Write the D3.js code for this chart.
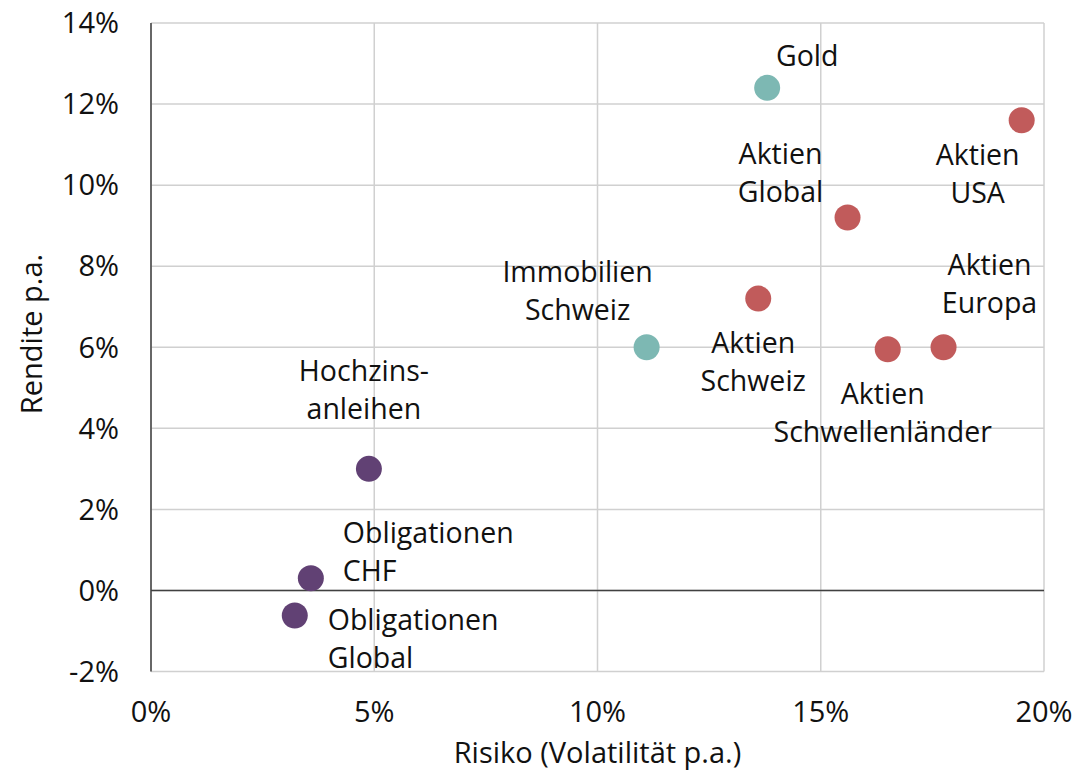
<!DOCTYPE html>
<html><head><meta charset="utf-8">
<script src="https://cdn.jsdelivr.net/npm/d3@7"></script>
<style>
body{margin:0;background:#fff;}
text{font-family:"Open Sans","Noto Sans",sans-serif;fill:#111;}
</style></head>
<body><svg id="c" width="1078" height="772"></svg>
<script>
const names = ["Gold","Aktien USA","Aktien Global","Aktien Schweiz","Immobilien Schweiz","Aktien Schwellenländer","Aktien Europa","Hochzinsanleihen","Obligationen CHF","Obligationen Global"];
const labelLines = [["Gold"],["Aktien","USA"],["Aktien","Global"],["Aktien","Schweiz"],["Immobilien","Schweiz"],["Aktien","Schwellenländer"],["Aktien","Europa"],["Hochzins-","anleihen"],["Obligationen","CHF"],["Obligationen","Global"]];
const risk = [13.8, 19.5, 15.6, 13.6, 11.1, 16.5, 17.75, 4.88, 3.58, 3.22];
const ret = [12.4, 11.6, 9.2, 7.2, 6.0, 5.95, 6.0, 3.0, 0.3, -0.62];
const group = ["alt","eq","eq","eq","alt","eq","eq","bond","bond","bond"];
const xTicks = [0,5,10,15,20];
const yTicks = [-2,0,2,4,6,8,10,12,14];
// label layout: anchor, dx, dy (first baseline relative to point, px)
const labelLayout = [
  ["middle",40,-22],["middle",-44,45],["middle",-67,-54],["middle",-5,54],["middle",-69,-65],["middle",-5,55],["middle",46,-72],["middle",-5,-88],["start",32,-35],["start",33,14]
];
const colors = {eq:"#c15b5b", alt:"#7db8b3", bond:"#614174"};

const svg = d3.select("#c");
const L=151, R=1044, T=23, B=671.5;
const x = d3.scaleLinear().domain([0,20]).range([L,R]);
const y = d3.scaleLinear().domain([-2,14]).range([B,T]);

// grid
svg.append("g").selectAll("line").data(xTicks).join("line")
  .attr("x1",d=>x(d)).attr("x2",d=>x(d)).attr("y1",T).attr("y2",B)
  .attr("stroke","#d0d0d0").attr("stroke-width",1.5);
svg.append("g").selectAll("line").data(yTicks).join("line")
  .attr("x1",L).attr("x2",R).attr("y1",d=>y(d)).attr("y2",d=>y(d))
  .attr("stroke","#d0d0d0").attr("stroke-width",1.5);
// zero line and y axis
svg.append("line").attr("x1",L).attr("x2",R).attr("y1",y(0)).attr("y2",y(0)).attr("stroke","#404040").attr("stroke-width",1.5);
svg.append("line").attr("x1",L).attr("x2",L).attr("y1",T).attr("y2",B).attr("stroke","#404040").attr("stroke-width",1.5);

// tick labels
svg.append("g").selectAll("text").data(yTicks).join("text")
  .attr("x",L-32).attr("y",d=>y(d)+10.3).attr("text-anchor","end")
  .style("font-size","29px").text(d=>d+"%");
svg.append("g").selectAll("text").data(xTicks).join("text")
  .attr("x",d=>x(d)).attr("y",722).attr("text-anchor","middle")
  .style("font-size","29px").text(d=>d+"%");

// axis titles
svg.append("text").attr("x",(L+R)/2).attr("y",763).attr("text-anchor","middle")
  .style("font-size","29px").text("Risiko (Volatilität p.a.)");
svg.append("text").attr("transform",`translate(42,334) rotate(-90)`).attr("text-anchor","middle")
  .style("font-size","29px").text("Rendite p.a.");

// points
const data = names.map((n,i)=>({n,x:risk[i],y:ret[i],g:group[i],lines:labelLines[i],lay:labelLayout[i]}));
svg.append("g").selectAll("circle").data(data).join("circle")
  .attr("cx",d=>x(d.x)).attr("cy",d=>y(d.y)).attr("r",13).attr("fill",d=>colors[d.g]);

// labels
const lg = svg.append("g");
data.forEach(d=>{
  const t = lg.append("text").attr("text-anchor",d.lay[0]).style("font-size","28.5px");
  d.lines.forEach((s,k)=>{
    t.append("tspan").attr("x",x(d.x)+d.lay[1]).attr("y",y(d.y)+d.lay[2]+k*38).text(s);
  });
});
</script></body></html>
